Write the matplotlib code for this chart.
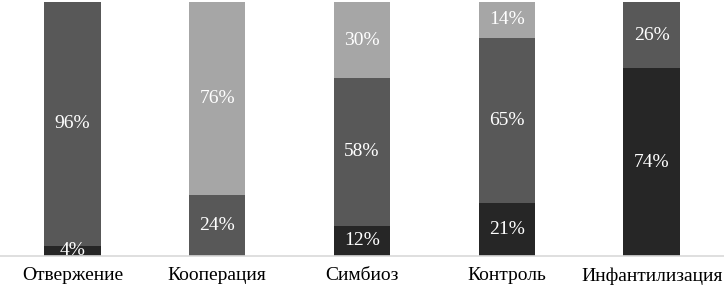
import numpy as np
import matplotlib
matplotlib.use("Agg")
import matplotlib.pyplot as plt

plt.rcParams["font.family"] = ["Liberation Serif", "DejaVu Serif"]

categories = ["Отвержение", "Кооперация", "Симбиоз", "Контроль", "Инфантилизация"]
dark = [4, 0, 12, 21, 74]
medium = [96, 24, 58, 65, 26]
light = [0, 76, 30, 14, 0]

series = [(dark, "#262626"), (medium, "#585858"), (light, "#a6a6a6")]

fig = plt.figure(figsize=(7.24, 2.89), dpi=100)
ax = fig.add_axes([0, 33 / 289, 1, 255 / 289])

x = np.arange(len(categories))
bottom = np.zeros(len(categories))
for vals, col in series:
    vals = np.array(vals, dtype=float)
    ax.bar(x, vals, width=0.39, bottom=bottom, color=col, zorder=2)
    for xi, b, v in zip(x, bottom, vals):
        if v > 0:
            ax.text(xi, b + v / 2, f"{int(v)}%", ha="center", va="center",
                    color="white", fontsize=14, zorder=3)
    bottom += vals

ax.set_xlim(-0.5, len(categories) - 0.5)
ax.set_ylim(0, 100.4)
ax.set_xticks(x)
ax.set_xticklabels(categories, fontsize=14)
ax.tick_params(axis="x", length=0, pad=8)
ax.set_yticks([])
for s in ["top", "left", "right"]:
    ax.spines[s].set_visible(False)
ax.spines["bottom"].set_color("#d9d9d9")
ax.spines["bottom"].set_linewidth(1.2)

fig.savefig("out.png", dpi=100)
